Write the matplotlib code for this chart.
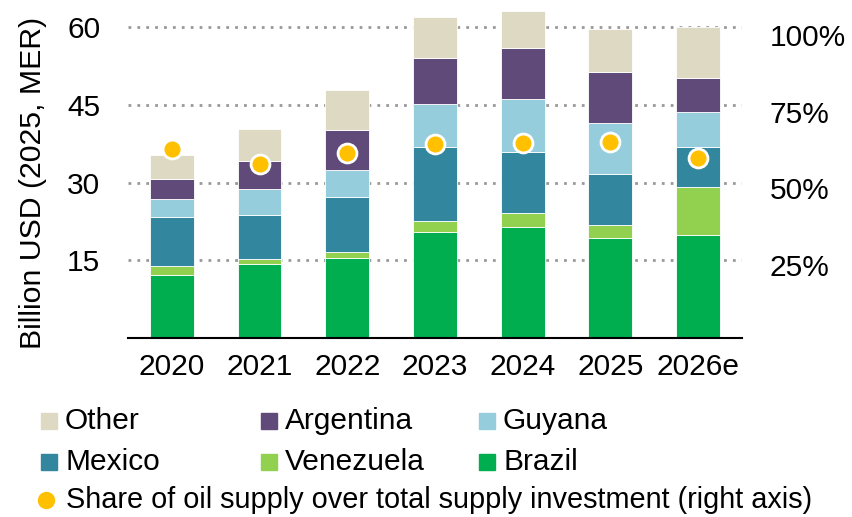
import matplotlib.pyplot as plt
import numpy as np
from matplotlib.patches import Rectangle
from matplotlib.lines import Line2D

plt.rcParams['font.family'] = ['Liberation Sans', 'DejaVu Sans']

# data (billion USD, 2025 MER)
years = ['2020', '2021', '2022', '2023', '2024', '2025', '2026e']
brazil = [12.1, 14.3, 15.4, 20.4, 21.4, 19.3, 19.8]
venezuela = [1.8, 0.9, 1.2, 2.2, 2.7, 2.6, 9.3]
mexico = [9.5, 8.5, 10.6, 14.2, 11.9, 9.7, 7.7]
guyana = [3.4, 5.1, 5.3, 8.4, 10.2, 10.0, 6.8]
argentina = [3.8, 5.3, 7.7, 8.8, 9.7, 9.8, 6.5]
other = [4.8, 6.2, 7.6, 7.9, 7.2, 8.2, 9.9]
oil_share = [62.8, 57.8, 61.6, 64.4, 64.7, 65.2, 59.8]  # % right axis

series = [('Brazil', brazil, '#00ad4f'),
          ('Venezuela', venezuela, '#92d050'),
          ('Mexico', mexico, '#32869e'),
          ('Guyana', guyana, '#95cddd'),
          ('Argentina', argentina, '#5f4a7a'),
          ('Other', other, '#ddd9c3')]
colors = {name: c for name, _, c in series}
dot_color = '#ffc000'

fs = 21.5
fig = plt.figure(figsize=(8.52, 5.17), dpi=100)
ax = fig.add_axes([0.1502, 0.3462, 0.7207, 0.6513])

x = np.arange(len(years))
bottom = np.zeros(len(years))
for name, vals, c in series:
    ax.bar(x, vals, 0.5, bottom=bottom, color=c, edgecolor='white', linewidth=0.6, zorder=2)
    bottom += np.array(vals)

ax.set_xlim(-0.5, 6.5)
ax.set_ylim(0, 65)
ax.set_yticks([15, 30, 45, 60])
ax.set_xticks(x)
ax.set_xticklabels(years)
ax.tick_params(axis='y', length=0, pad=20, labelsize=fs)
ax.tick_params(axis='x', length=0, pad=11, labelsize=fs)
for s in ['top', 'right', 'left']:
    ax.spines[s].set_visible(False)
ax.spines['bottom'].set_linewidth(1.5)
ax.spines['bottom'].set_zorder(4)
ax.grid(axis='y', color='#999999', linestyle=(0, (1, 2.2)), linewidth=2, zorder=1)

# right axis (share, %)
ax2 = ax.twinx()
ax2.set_ylim(1.2, 111.0)
ax2.set_yticks([25, 50, 75, 100])
ax2.set_yticklabels(['25%', '50%', '75%', '100%'])
ax2.tick_params(axis='y', length=0, pad=20, labelsize=fs)
for s in ['top', 'right', 'left', 'bottom']:
    ax2.spines[s].set_visible(False)
ax2.scatter(x, oil_share, s=185, color=dot_color, edgecolor='white', linewidth=2, zorder=5)

fig.text(33 / 852, 1 - 183 / 517, 'Billion USD (2025, MER)', rotation=90,
         ha='center', va='center', fontsize=21.8)

# legend drawn in figure pixels
W, H = 852, 517
legend_items = [('Other', 41, 421), ('Argentina', 261, 421), ('Guyana', 479, 421),
                ('Mexico', 41, 462), ('Venezuela', 261, 462), ('Brazil', 479, 462)]
for name, px, py in legend_items:
    fig.add_artist(Rectangle((px / W, 1 - (py + 8) / H), 16 / W, 16 / H,
                             transform=fig.transFigure, color=colors[name]))
    fig.text((px + 24) / W, 1 - py / H, name, ha='left', va='center', fontsize=fs)

fig.add_artist(Line2D([45.5 / W], [1 - 500 / H], marker='o', markersize=11.5,
                      color=dot_color, transform=fig.transFigure))
fig.text(66 / W, 1 - 500 / H, 'Share of oil supply over total supply investment (right axis)',
         ha='left', va='center', fontsize=20.8)

fig.savefig('out.png', dpi=100)
